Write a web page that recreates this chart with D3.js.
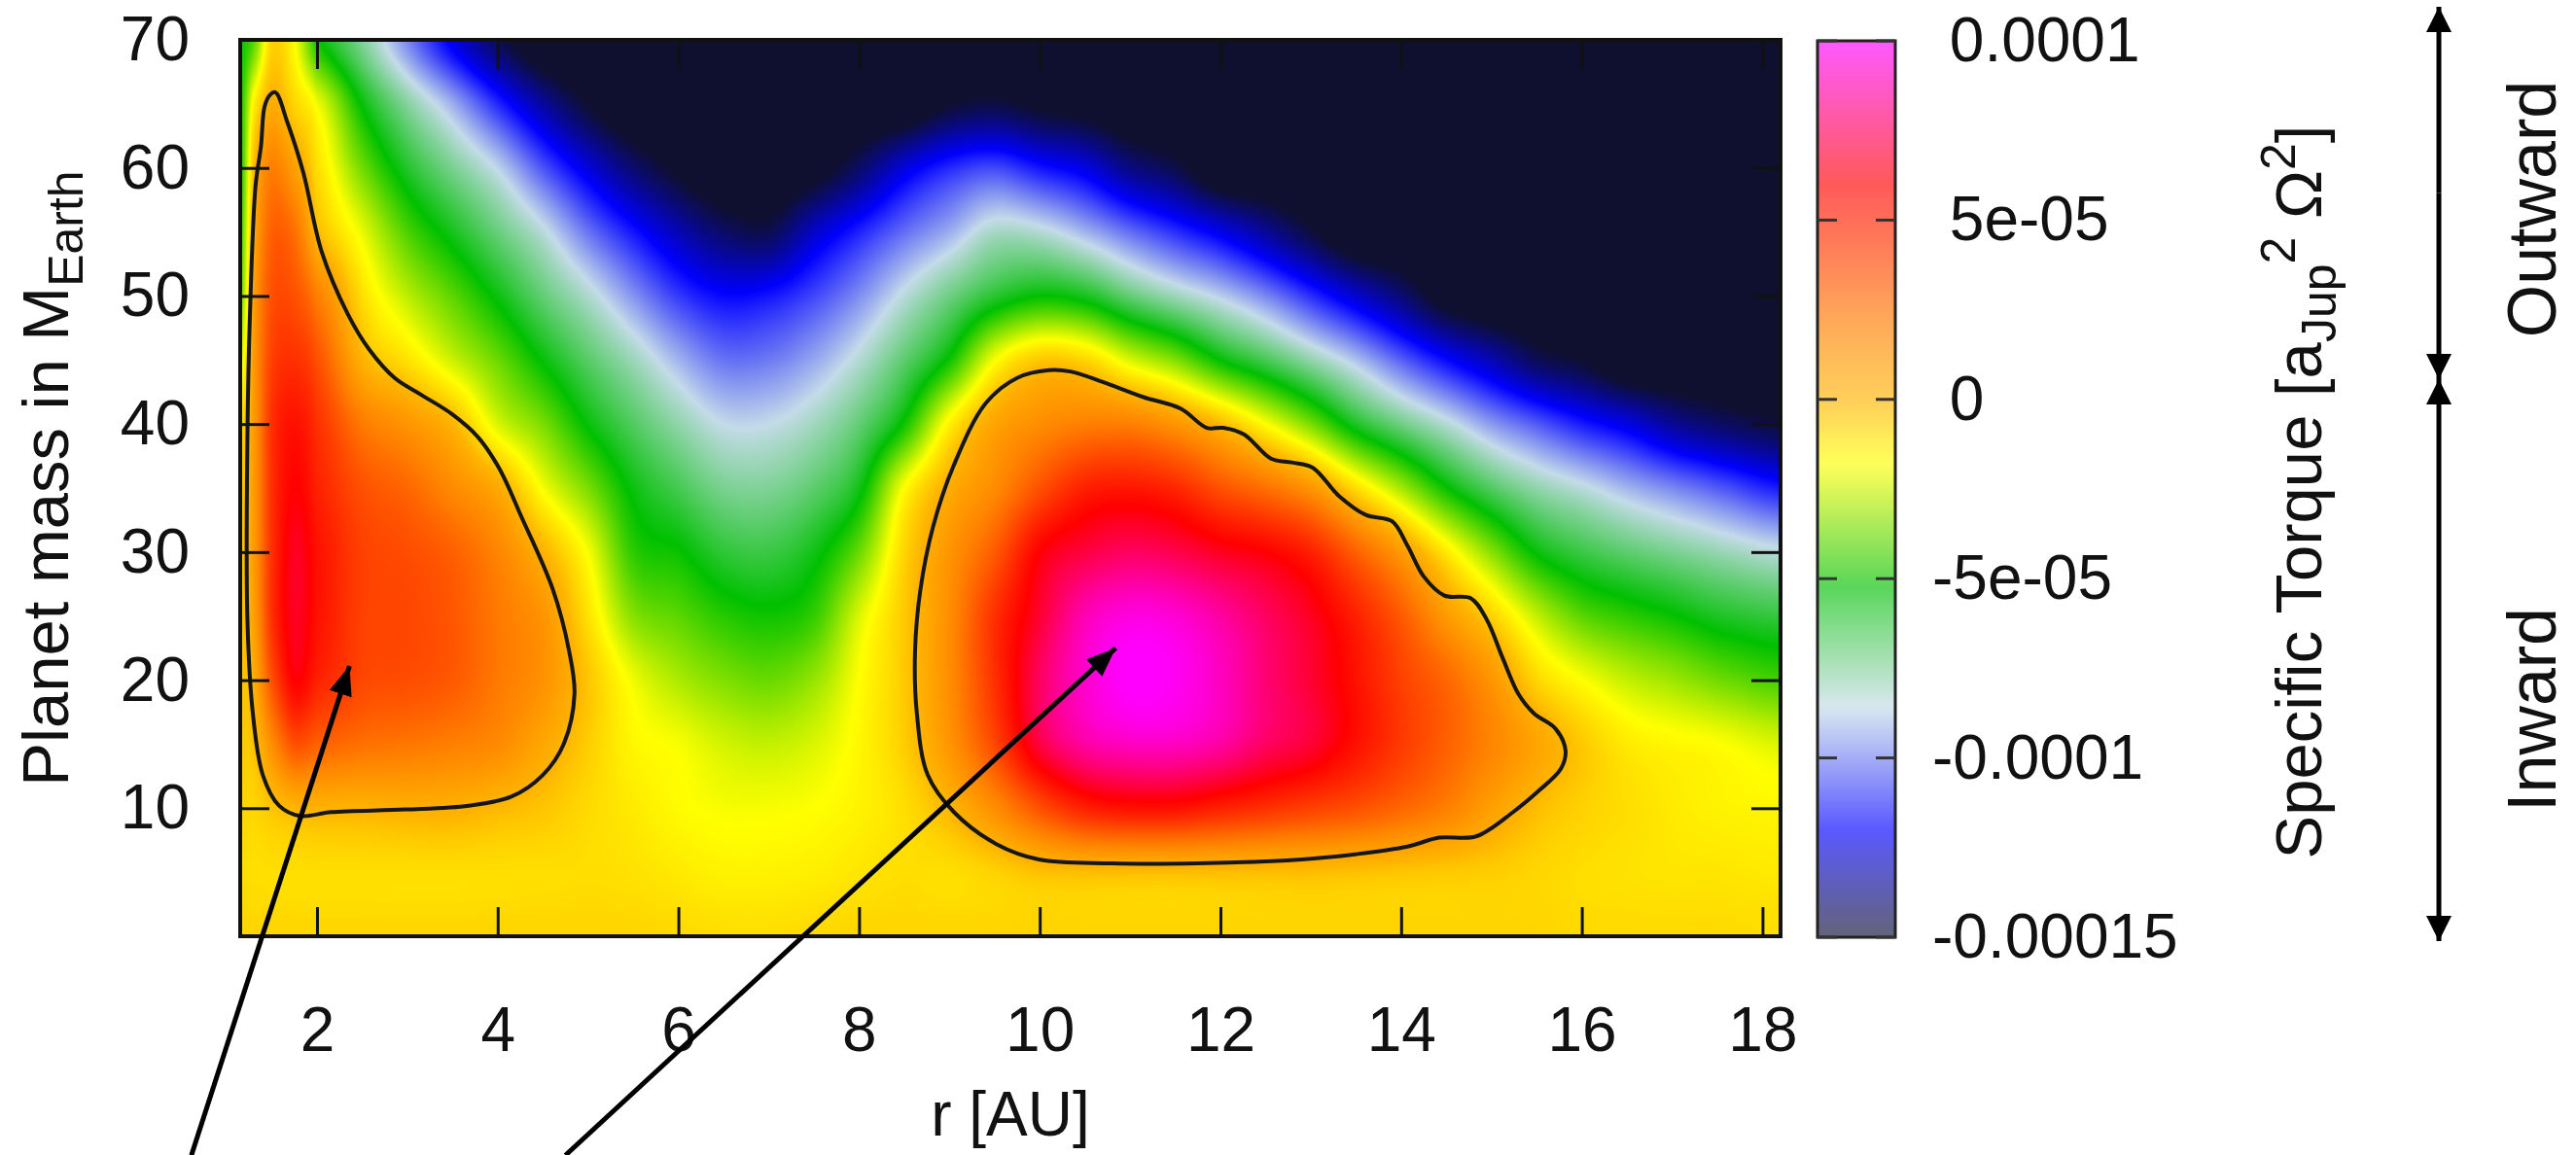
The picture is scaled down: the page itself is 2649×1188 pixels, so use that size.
<!DOCTYPE html>
<html>
<head>
<meta charset="utf-8">
<script src="https://cdn.jsdelivr.net/npm/d3@7"></script>
<style>
  body { margin: 0; background: #fff; }
  svg text { font-family: "Liberation Sans", Arial, Helvetica, sans-serif; fill: #111; }
</style>
</head>
<body>
<svg width="2649" height="1188"></svg>
<script>
// grid the map was read on
var rAxis = [1.15, 1.3, 1.5, 1.75, 2, 2.5, 3, 3.5, 4, 4.5, 5, 5.5, 6, 6.5, 7, 7.5, 8, 8.5, 9,
             9.5, 10, 10.5, 11, 11.5, 12, 12.5, 13, 13.5, 14, 14.5, 15, 15.5, 16, 16.5, 17, 17.5, 18.2];
var massAxis = [0, 5, 10, 15, 20, 25, 30, 35, 40, 45, 50, 55, 60, 65, 70];

// specific torque in 1e-5 a_Jup^2 Omega^2, one line per radius, masses 0 -> 70
var torqueByR = [
  [-0.8, -1.0, -0.8, -0.5, -0.4, -0.4, -0.5, -0.6, -1.0, -2.5, -4.0, -4.5, -5.0, -5.0, -5.0],  // 1.15
  [-0.8, -1.0, -0.8, -0.3,  0.3,  0.8,  1.0,  1.0,  1.0,  1.0,  0.8,  0.3, -0.2, -1.5, -4.0],  // 1.3
  [-0.8, -1.0, -0.4,  1.5,  3.5,  4.5,  4.5,  4.5,  4.5,  4.0,  3.5,  3.0,  2.0,  0.3, -0.8],  // 1.5
  [-0.8, -1.0,  0.0,  3.5,  6.0,  6.5,  6.5,  6.0,  5.5,  4.5,  3.5,  2.5,  0.8, -0.8, -1.8],  // 1.75
  [-0.8, -1.0,  0.1,  3.0,  5.0,  5.5,  5.5,  5.0,  4.5,  3.5,  2.0, -0.1, -1.0, -2.0, -5.0],  // 2
  [-0.8, -1.0,  0.1,  2.5,  3.8,  4.0,  4.0,  3.5,  2.2,  0.1, -1.0, -2.1, -3.7, -5.3, -7.4],  // 2.5
  [-0.8, -1.0,  0.2,  2.3,  3.6,  3.8,  3.6,  2.8,  1.2, -1.1, -2.7, -4.2, -5.8, -7.5, -9.9],  // 3
  [-0.8, -1.0,  0.2,  2.0,  3.2,  3.3,  3.0,  1.6,  0.0, -2.5, -4.0, -5.6, -7.3, -9.3, -12.3], // 3.5
  [-0.8, -1.0, -0.1,  1.6,  2.2,  2.2,  1.8,  0.4, -2.3, -3.8, -5.4, -7.0, -8.7, -11.4, -14.4],// 4
  [-0.8, -1.0, -0.4,  0.5,  1.3,  1.2,  0.1, -1.9, -3.6, -5.3, -6.9, -8.4, -10.7, -13.4, -16], // 4.5
  [-0.8, -1.0, -0.9, -0.6, -0.4, -1.1, -1.9, -3.6, -5.3, -6.7, -8.2, -10.2, -12.5, -15, -16],  // 5
  [-0.8, -1.1, -1.3, -1.6, -2.0, -3.4, -4.6, -5.4, -6.6, -7.9, -9.7, -11.7, -14.1, -16, -16],  // 5.5
  [-0.9, -1.3, -1.7, -1.9, -2.9, -4.0, -5.1, -6.4, -7.7, -9.2, -11.1, -13.1, -15.2, -16, -16], // 6
  [-1.0, -1.5, -1.9, -2.4, -3.5, -4.7, -6.0, -7.3, -8.6, -10.2, -11.9, -14.2, -16, -16, -16],  // 6.5
  [-1.0, -1.5, -1.9, -2.6, -3.8, -5.0, -6.2, -7.4, -8.6, -10.1, -11.7, -14.5, -16, -16, -16],  // 7
  [-0.9, -1.4, -1.8, -2.3, -3.2, -4.5, -5.5, -6.8, -8.0, -9.4, -10.9, -12.8, -15.5, -16, -16],  // 7.5
  [-0.8, -1.2, -1.5, -1.6, -1.8, -2.3, -3.8, -5.5, -6.9, -8.3, -9.8, -11.5, -14.2, -16, -16],   // 8
  [-0.8, -1.0, -1.0, -0.6, -0.5, -0.5, -0.8, -1.8, -5.0, -6.8, -8.4, -10.3, -12.5, -16, -16],   // 8.5
  [-0.8, -1.0,  0.0,  1.2,  1.5,  1.5,  1.2,  0.3, -1.5, -5.0, -7.1, -9.3, -11.4, -15.0, -16],  // 9
  [-0.8, -0.7,  1.5,  3.8,  4.5,  4.5,  3.2,  1.6,  0.6, -1.9, -5.9, -8.1, -10.9, -14.7, -16],  // 9.5
  [-0.8, -0.3,  3.5,  7.0,  7.5,  6.8,  6.0,  3.5,  1.5, -0.5, -5.2, -8.3, -11.7, -15.2, -16],  // 10
  [-0.8, -0.2,  5.0,  8.5,  9.2,  8.8,  7.0,  5.0,  2.0, -0.8, -5.6, -9.2, -12.4, -15.5, -16],  // 10.5
  [-0.8, -0.2,  5.5,  9.0, 10.0,  9.5,  7.5,  5.3,  2.0, -2.3, -6.9, -10.3, -13.8, -16, -16],   // 11
  [-0.8, -0.2,  5.5,  9.0,  9.8,  9.3,  7.2,  4.8,  1.2, -3.5, -7.9, -11.3, -14.6, -16, -16],   // 11.5
  [-0.8, -0.2,  5.0,  8.5,  9.0,  8.5,  6.5,  3.5, -0.1, -5.2, -8.8, -12.3, -16, -16, -16],     // 12
  [-0.8, -0.2,  4.5,  7.5,  7.8,  7.5,  6.0,  2.5, -1.8, -6.4, -9.9, -13.5, -16, -16, -16],     // 12.5
  [-0.8, -0.2,  4.0,  6.8,  6.8,  6.5,  5.0,  1.2, -3.6, -7.7, -11.3, -14.8, -16, -16, -16],    // 13
  [-0.8, -0.3,  3.5,  5.5,  5.5,  5.0,  3.0, -1.0, -5.7, -9.0, -12.7, -16, -16, -16, -16],      // 13.5
  [-0.8, -0.4,  2.8,  4.2,  4.0,  3.2,  1.0, -3.0, -7.1, -10.5, -14.0, -16, -16, -16, -16],     // 14
  [-0.8, -0.5,  2.0,  3.0,  2.8,  1.0, -1.3, -5.1, -8.3, -11.9, -15.5, -16, -16, -16, -16],     // 14.5
  [-0.8, -0.6,  0.8,  1.8,  1.2, -0.7, -3.4, -6.6, -9.6, -13.1, -16, -16, -16, -16, -16],       // 15
  [-0.8, -0.8, -0.2,  0.6, -0.8, -2.6, -5.3, -7.7, -10.6, -14.4, -16, -16, -16, -16, -16],      // 15.5
  [-0.9, -1.0, -0.7, -0.5, -1.8, -4.0, -6.2, -8.4, -11.6, -15, -16, -16, -16, -16, -16],        // 16
  [-0.9, -1.1, -1.0, -1.3, -2.6, -4.6, -6.8, -9.2, -12.4, -16, -16, -16, -16, -16, -16],        // 16.5
  [-0.9, -1.2, -1.3, -1.6, -3.1, -5.1, -7.3, -9.9, -13.5, -16, -16, -16, -16, -16, -16],        // 17
  [-0.9, -1.2, -1.5, -1.8, -3.7, -5.7, -7.8, -10.6, -14.2, -16, -16, -16, -16, -16, -16],       // 17.5
  [-1.0, -1.3, -1.6, -2.3, -4.3, -6.1, -8.4, -11.6, -14.8, -16, -16, -16, -16, -16, -16]        // 18.2
];

// zero-torque contours [r, mass]
var leftContour = [[1.54,65.9],[1.67,63.6],[1.85,59.6],[2.05,53.5],[2.34,48.6],[2.58,45.8],[2.86,43.6],
  [3.15,42.3],[3.49,40.8],[3.78,39.0],[4.02,36.5],[4.26,32.8],[4.61,27.1],[4.79,22.3],[4.85,18.9],
  [4.73,15.0],[4.50,12.6],[4.15,10.9],[3.68,10.2],[2.98,9.9],[2.16,9.7],[1.81,9.4],[1.58,10.2],
  [1.40,12.6],[1.29,17.4],[1.23,24.7],[1.23,39],[1.26,49],[1.32,58.6],[1.38,61.7],[1.42,64.8],[1.48,65.7]];
var rightContour = [[10.10,44.2],[9.75,43.6],[9.40,41.6],[9.05,36.8],[8.82,32.0],[8.68,27.1],[8.62,22.3],
  [8.64,17.4],[8.76,12.6],[9.05,9.7],[9.52,7.2],[9.99,6.0],[10.80,5.7],[11.74,5.7],[12.90,6.0],
  [13.49,6.4],[14.07,7.0],[14.42,7.7],[14.83,7.8],[15.24,9.7],[15.53,11.4],[15.77,13.1],[15.82,14.5],
  [15.71,16.2],[15.47,17.4],[15.30,18.9],[15.12,21.8],[14.95,24.7],[14.77,26.4],[14.48,26.6],
  [14.25,28.1],[14.07,30.5],[13.90,32.4],[13.61,32.9],[13.31,34.4],[13.02,36.6],[12.79,37.0],
  [12.56,37.3],[12.26,39.2],[12.03,39.7],[11.85,39.7],[11.56,41.2],[11.15,42.1],[10.69,43.3],[10.34,44.1]];

var rTicks = [2, 4, 6, 8, 10, 12, 14, 16, 18];
var massTicks = [10, 20, 30, 40, 50, 60, 70];
var cbTicks = [10, 5, 0, -5, -10, -15];
var cbLabels = [" 0.0001", " 5e-05", " 0", "-5e-05", "-0.0001", "-0.00015"];

// pointer arrows, [r, mass] from tail to head
var pointers = [
  [[0.61, -17.1], [2.36, 21.1]],
  [[4.75, -17.1], [10.84, 22.5]]
];

var paletteStops = [-15, -12, -8.6, -5.2, -1.8, 0, 2, 6, 10];
var paletteColors = ["#0f0f30", "#0000ff", "#c4dbe8", "#00c000", "#ffff00", "#ffb400", "#ff8000", "#ff0000", "#ff00ff"];

var svg = d3.select("svg");
var plotL = 247, plotR = 1831, plotT = 41, plotB = 963;

var x = d3.scaleLinear().domain([1.15, 18.2]).range([plotL, plotR]);
var y = d3.scaleLinear().domain([0, 70]).range([plotB, plotT]);
var color = d3.scaleLinear().domain(paletteStops).range(paletteColors).clamp(true);

svg.append("rect").attr("width", 2649).attr("height", 1188).attr("fill", "#fff");

// ---- heat map, smoothed like pm3d interpolate ----
var W = plotR - plotL, H = plotB - plotT;
var canvas = document.createElement("canvas");
canvas.width = W; canvas.height = H;
var ctx = canvas.getContext("2d");
var img = ctx.createImageData(W, H);
var colIdx = d3.scaleLinear().domain(rAxis).range(d3.range(rAxis.length)).clamp(true);
var rowIdx = d3.scaleLinear().domain(massAxis).range(d3.range(massAxis.length)).clamp(true);
var nC = rAxis.length, nR = massAxis.length;

function cr(p0, p1, p2, p3, t) {
  return p1 + 0.5 * t * (p2 - p0 + t * (2 * p0 - 5 * p1 + 4 * p2 - p3 + t * (3 * (p1 - p2) + p3 - p0)));
}
function ci(i) { return Math.max(0, Math.min(nC - 1, i)); }
function ri(i) { return Math.max(0, Math.min(nR - 1, i)); }

var lutMin = -16.5, lutMax = 11, lutN = 2048, lut = [];
for (var k = 0; k < lutN; k++) {
  var c = d3.rgb(color(lutMin + k * (lutMax - lutMin) / (lutN - 1)));
  lut.push([c.r, c.g, c.b]);
}

var colVals = new Float64Array(nR);
for (var i = 0; i < W; i++) {
  var fc = colIdx(x.invert(plotL + i + 0.5));
  var c0 = Math.floor(fc), t = fc - c0;
  if (c0 >= nC - 1) { c0 = nC - 2; t = 1; }
  for (var kk = 0; kk < nR; kk++) {
    colVals[kk] = cr(torqueByR[ci(c0 - 1)][kk], torqueByR[c0][kk], torqueByR[c0 + 1][kk], torqueByR[ci(c0 + 2)][kk], t);
  }
  for (var j = 0; j < H; j++) {
    var fr = rowIdx(y.invert(plotT + j + 0.5));
    var r0 = Math.floor(fr), u = fr - r0;
    if (r0 >= nR - 1) { r0 = nR - 2; u = 1; }
    var v = cr(colVals[ri(r0 - 1)], colVals[r0], colVals[r0 + 1], colVals[ri(r0 + 2)], u);
    var li = Math.round((v - lutMin) / (lutMax - lutMin) * (lutN - 1));
    li = Math.max(0, Math.min(lutN - 1, li));
    var p = (j * W + i) * 4, col = lut[li];
    img.data[p] = col[0]; img.data[p + 1] = col[1]; img.data[p + 2] = col[2]; img.data[p + 3] = 255;
  }
}
ctx.putImageData(img, 0, 0);

svg.append("image")
  .attr("x", plotL).attr("y", plotT)
  .attr("width", W).attr("height", H)
  .attr("preserveAspectRatio", "none")
  .attr("href", canvas.toDataURL());

// ---- zero contours ----
var contourLine = d3.line()
  .x(function (d) { return x(d[0]); })
  .y(function (d) { return y(d[1]); })
  .curve(d3.curveCatmullRomClosed);

svg.selectAll(".zero")
  .data([leftContour, rightContour])
  .enter().append("path")
  .attr("class", "zero")
  .attr("d", contourLine)
  .attr("fill", "none")
  .attr("stroke", "#161616")
  .attr("stroke-width", 4);

// ---- axes ----
function styleAxis(g) {
  g.select(".domain").remove();
  g.attr("font-family", null).attr("font-size", 64);
  g.selectAll(".tick line").attr("stroke", "#111").attr("stroke-width", 3);
  g.selectAll(".tick text").attr("fill", "#111");
}

svg.append("g")
  .attr("transform", "translate(0," + plotB + ")")
  .call(d3.axisBottom(x).tickValues(rTicks).tickSize(-30).tickPadding(73))
  .call(styleAxis);
svg.append("g")
  .attr("transform", "translate(0," + plotT + ")")
  .call(d3.axisTop(x).tickValues(rTicks).tickSize(-30).tickFormat(""))
  .call(styleAxis);
svg.append("g")
  .attr("transform", "translate(" + plotL + ",0)")
  .call(d3.axisLeft(y).tickValues(massTicks).tickSize(-30).tickPadding(52))
  .call(styleAxis);
svg.append("g")
  .attr("transform", "translate(" + plotR + ",0)")
  .call(d3.axisRight(y).tickValues(massTicks).tickSize(-30).tickFormat(""))
  .call(styleAxis);

svg.append("rect")
  .attr("x", plotL).attr("y", plotT).attr("width", W).attr("height", H)
  .attr("fill", "none").attr("stroke", "#111").attr("stroke-width", 4);

svg.append("text")
  .attr("x", (plotL + plotR) / 2).attr("y", 1168)
  .attr("text-anchor", "middle").attr("font-size", 64)
  .text("r [AU]");

var yl = svg.append("text")
  .attr("transform", "translate(70,492) rotate(-90)")
  .attr("text-anchor", "middle").attr("font-size", 67);
yl.append("tspan").text("Planet mass in M");
yl.append("tspan").attr("font-size", 50).attr("dy", 15).text("Earth");

// ---- colour box ----
var cbLeft = 1869, cbRight = 1949;
var cScale = d3.scaleLinear().domain([-15, 10]).range([964, 42]);
var defs = svg.append("defs");
var grad = defs.append("linearGradient")
  .attr("id", "cbgrad").attr("x1", 0).attr("y1", 1).attr("x2", 0).attr("y2", 0);
d3.range(0, 101).forEach(function (s) {
  var val = -15 + s * 0.25;
  grad.append("stop")
    .attr("offset", s + "%")
    .attr("stop-color", d3.interpolateRgb(color(val), "#fff")(0.35));
});
svg.append("rect")
  .attr("x", cbLeft).attr("y", cScale(10))
  .attr("width", cbRight - cbLeft).attr("height", cScale(-15) - cScale(10))
  .attr("fill", "url(#cbgrad)")
  .attr("stroke", "#222").attr("stroke-width", 3);

svg.selectAll(".cbtickL")
  .data(cbTicks).enter().append("line")
  .attr("x1", cbLeft).attr("x2", cbLeft + 20)
  .attr("y1", function (d) { return cScale(d); }).attr("y2", function (d) { return cScale(d); })
  .attr("stroke", "#333").attr("stroke-width", 3);
svg.selectAll(".cbtickR")
  .data(cbTicks).enter().append("line")
  .attr("x1", cbRight - 20).attr("x2", cbRight)
  .attr("y1", function (d) { return cScale(d); }).attr("y2", function (d) { return cScale(d); })
  .attr("stroke", "#333").attr("stroke-width", 3);

svg.append("g")
  .attr("transform", "translate(" + cbRight + ",0)")
  .call(d3.axisRight(cScale).tickValues(cbTicks).tickSize(0).tickPadding(38)
    .tickFormat(function (d, i) { return cbLabels[i]; }))
  .call(styleAxis)
  .selectAll("text").style("white-space", "pre");

var cl = svg.append("text")
  .attr("transform", "translate(2387,506) rotate(-90)")
  .attr("text-anchor", "middle").attr("font-size", 67)
  .style("white-space", "pre");
cl.append("tspan").text("Specific Torque [a");
cl.append("tspan").attr("font-size", 50).attr("dy", 15).text("Jup");
cl.append("tspan").attr("font-size", 50).attr("dy", -42).text("2");
cl.append("tspan").attr("dy", 27).text(" \u03A9");
cl.append("tspan").attr("font-size", 50).attr("dy", -27).text("2");
cl.append("tspan").attr("dy", 27).text("]");

// ---- outward / inward markers ----
defs.append("marker")
  .attr("id", "head").attr("markerUnits", "userSpaceOnUse")
  .attr("viewBox", "0 0 26 26").attr("refX", 26).attr("refY", 13)
  .attr("markerWidth", 26).attr("markerHeight", 26).attr("orient", "auto")
  .append("path").attr("d", "M0,0 L26,13 L0,26 Z").attr("fill", "#000");

var arrowX = 2508;
[[390, 7], [7, 390], [968, 390], [390, 968]].forEach(function (a) {
  var mid = (a[0] + a[1]) / 2;
  svg.append("line")
    .attr("x1", arrowX).attr("x2", arrowX)
    .attr("y1", mid).attr("y2", a[1])
    .attr("stroke", "#000").attr("stroke-width", 5)
    .attr("marker-end", "url(#head)");
});

svg.append("text")
  .attr("transform", "translate(2628,215) rotate(-90)")
  .attr("text-anchor", "middle").attr("font-size", 70)
  .text("Outward");
svg.append("text")
  .attr("transform", "translate(2628,730) rotate(-90)")
  .attr("text-anchor", "middle").attr("font-size", 70)
  .text("Inward");

// ---- pointer arrows into the two outward-migration zones ----
defs.append("marker")
  .attr("id", "ptr").attr("markerUnits", "userSpaceOnUse")
  .attr("viewBox", "0 0 30 24").attr("refX", 30).attr("refY", 12)
  .attr("markerWidth", 30).attr("markerHeight", 24).attr("orient", "auto")
  .append("path").attr("d", "M0,0 L30,12 L0,24 Z").attr("fill", "#000");

svg.selectAll(".ptr")
  .data(pointers).enter().append("line")
  .attr("class", "ptr")
  .attr("x1", function (d) { return x(d[0][0]); })
  .attr("y1", function (d) { return y(d[0][1]); })
  .attr("x2", function (d) { return x(d[1][0]); })
  .attr("y2", function (d) { return y(d[1][1]); })
  .attr("stroke", "#000").attr("stroke-width", 5)
  .attr("marker-end", "url(#ptr)");
</script>
</body>
</html>
